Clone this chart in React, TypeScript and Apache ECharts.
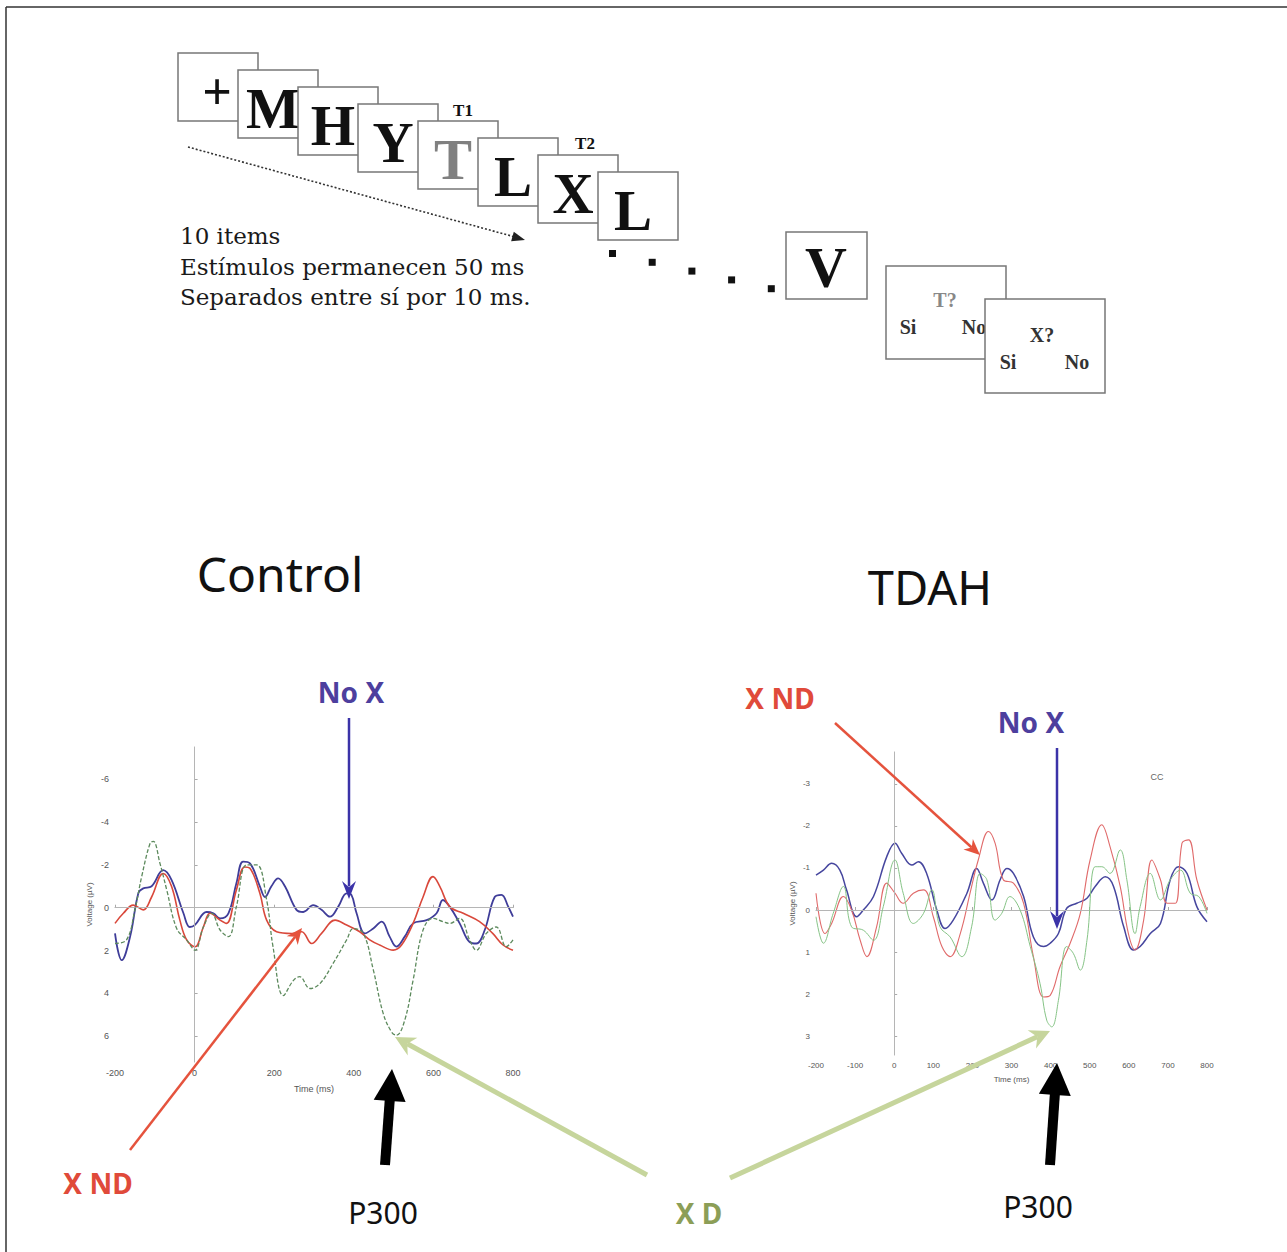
import React, { useEffect, useRef } from "react";
import * as echarts from "echarts";

// ---------- Data ----------
// Control group (left panel)
const ctrlNoXTime = [-200,-183,-162,-141,-129,-108,-79,-58,-28,-12,1,30,47,64,85,105,122,139,164,177,193,210,227,256,273,298,319,340,361,382,394,407,428,449,470,490,507,528,549,583,608,624,641,666,691,708,729,754,771,788,800];
const ctrlNoXVal = [1.2,2.45,1.35,-0.7,-0.9,-1.0,-1.75,-1.3,0.26,0.9,0.8,0.2,0.26,0.5,0.26,-1.14,-2.15,-2.07,-1.0,-0.5,-1.0,-1.37,-1.0,0.1,0.2,-0.12,0.1,0.42,-0.05,-0.67,-0.6,0.26,1.2,0.97,0.65,1.35,1.82,1.35,0.73,0.58,0.26,-0.36,-0.05,0.73,1.6,1.67,1.04,-0.5,-0.6,-0.05,0.42];

const ctrlXNDTime = [-200,-179,-154,-129,-108,-79,-58,-37,-20,1,22,39,64,80,105,126,139,164,181,206,244,269,294,319,353,382,415,440,465,499,520,549,574,599,616,641,675,716,749,775,800];
const ctrlXNDVal = [0.73,0.26,-0.12,0.1,-0.5,-1.6,-1.0,0.58,1.5,1.82,0.9,0.26,0.58,0.73,-0.83,-1.9,-1.84,-0.67,0.58,1.12,1.2,1.12,1.67,1.2,0.58,0.81,1.12,1.5,1.74,1.98,1.74,0.73,-0.5,-1.45,-1.0,-0.05,0.26,0.65,1.2,1.74,1.98];

const ctrlXDTime = [-200,-171,-150,-133,-112,-104,-87,-70,-45,-20,1,22,43,64,85,105,131,156,181,197,223,248,264,290,315,348,382,399,424,449,474,495,507,528,549,574,599,624,641,666,691,708,733,758,783,800];
const ctrlXDVal = [1.67,1.5,0.1,-1.45,-3.0,-3.1,-2.07,-0.83,0.97,1.5,1.98,0.9,0.26,1.04,1.35,-0.05,-2.0,-2.0,-0.36,1.82,4.1,3.4,3.22,3.77,3.54,2.6,1.5,0.97,1.2,2.9,4.94,5.8,5.95,5.25,3.38,1.04,0.5,0.65,0.73,0.5,1.5,1.98,1.2,0.9,1.82,1.5];

// TDAH group (right panel)
const tdahNoXTime = [-200,-181,-160,-139,-122,-96,-79,-53,-19,2,19,45,62,83,109,130,151,186,211,228,250,271,288,305,331,356,382,399,420,441,467,493,514,540,561,587,612,629,655,681,706,727,749,774,800];
const tdahNoXVal = [-0.83,-0.95,-1.11,-0.95,-0.48,0.16,0,-0.32,-1.27,-1.59,-1.35,-1.07,-1.15,-0.87,0,0.44,0.24,-0.4,-0.99,-0.64,-0.24,-0.72,-0.99,-0.87,-0.32,0.64,0.87,0.79,0.56,-0.04,-0.16,-0.28,-0.56,-0.79,-0.56,0.4,0.95,0.87,0.56,0.32,-0.72,-1.03,-0.87,-0.08,0.28];

const tdahXNDTime = [-200,-177,-160,-130,-109,-87,-70,-45,-19,2,23,49,75,100,122,143,169,194,215,241,258,279,305,331,356,382,399,424,450,476,501,531,552,578,599,616,638,659,681,698,719,736,753,774,800];
const tdahXNDVal = [-0.4,0.56,0.32,-0.32,0,0.72,1.11,0.4,-0.64,-0.4,-0.16,-0.4,-0.48,0.16,0.87,1.11,0.56,-0.4,-1.19,-1.87,-1.59,-0.72,-0.64,-0.16,1.11,2.07,2.03,1.35,0.79,0.08,-1.19,-2.03,-1.51,-0.56,0.56,0.95,0.24,-1.19,-0.72,-0.16,-0.16,-1.59,-1.67,-0.72,0];

const tdahXDTime = [-200,-181,-156,-130,-109,-79,-53,-28,2,23,49,75,96,117,143,173,198,220,237,258,275,296,322,348,373,390,403,420,441,458,476,493,514,531,552,578,595,616,629,655,681,706,732,757,779,800];
const tdahXDVal = [0.16,0.79,0.08,-0.56,0.4,0.48,0.72,-0.08,-1.19,-0.4,0.32,0.08,-0.48,0.4,0.64,1.11,0.4,-0.87,-0.72,0.24,0.08,-0.32,0,0.87,1.75,2.62,2.78,2.15,0.87,1.03,1.43,0.72,-1.03,-1.03,-0.87,-1.43,-0.72,0.56,-0.08,-0.87,-0.24,-0.72,-0.95,-0.4,-0.32,0.08];

// Axis ticks
const ctrlYTicks = [-6, -4, -2, 0, 2, 4, 6];
const tdahYTicks = [-3, -2, -1, 0, 1, 2, 3];

// Stimulus sequence
const seqLetters = ["+", "M", "H", "Y", "T", "L", "X", "L"];
const infoLines = ["10 items", "Estímulos permanecen 50 ms", "Separados entre sí por 10 ms."];

const zip = (t: number[], v: number[]) => t.map((x, i) => [x, v[i]]);

function headPts(x1: number, y1: number, x2: number, y2: number, len: number, hw: number, notch: number) {
  const dx = x2 - x1, dy = y2 - y1;
  const L = Math.hypot(dx, dy);
  const ux = dx / L, uy = dy / L;
  const px = -uy, py = ux;
  const bx = x2 - ux * len, by = y2 - uy * len;
  const nx = x2 - ux * len * (1 - notch), ny = y2 - uy * len * (1 - notch);
  return [
    [x2, y2],
    [bx + px * hw, by + py * hw],
    [nx, ny],
    [bx - px * hw, by - py * hw],
  ];
}

function arrow(x1: number, y1: number, x2: number, y2: number, color: string, width: number, len: number, hw: number, notch = 0) {
  const dx = x2 - x1, dy = y2 - y1;
  const L = Math.hypot(dx, dy);
  const ex = x2 - (dx / L) * len * 0.7, ey = y2 - (dy / L) * len * 0.7;
  return [
    { type: "line", z: 100, shape: { x1, y1, x2: ex, y2: ey }, style: { stroke: color, lineWidth: width } },
    { type: "polygon", z: 101, shape: { points: headPts(x1, y1, x2, y2, len, hw, notch) }, style: { fill: color } },
  ];
}

function txt(text: string, x: number, y: number, size: number, color: string, family: string, weight = "normal", align = "center") {
  return {
    type: "text",
    z: 102,
    x,
    y,
    style: {
      text,
      fill: color,
      fontSize: size,
      fontFamily: family,
      fontWeight: weight,
      align,
      textAlign: align,
      verticalAlign: "middle",
      textVerticalAlign: "middle",
    },
  };
}

const SERIF = "Liberation Serif";
const SANS = "Noto Sans";

function buildGraphic() {
  const g: any[] = [];
  // frame (top and left edges)
  g.push({ type: "line", shape: { x1: 6, y1: 7, x2: 1287, y2: 7 }, style: { stroke: "#333", lineWidth: 1.5 } });
  g.push({ type: "line", shape: { x1: 6, y1: 7, x2: 6, y2: 1252 }, style: { stroke: "#333", lineWidth: 1.5 } });

  // stimulus boxes
  seqLetters.forEach((ch, i) => {
    const left = 178 + 60 * i;
    const top = 53 + 17 * i;
    g.push({ type: "rect", z: 10 + i * 2, shape: { x: left, y: top, width: 80, height: 68 }, style: { fill: "#fff", stroke: "#777", lineWidth: 1.5 } });
    const t = txt(ch, left + (i === 0 ? 39 : 35), top + 38, ch === "+" ? 52 : 57, ch === "T" && i === 4 ? "#808080" : "#111", SERIF, "bold");
    (t as any).z = 11 + i * 2;
    g.push(t);
  });
  g.push(txt("T1", 463, 110, 17, "#111", SERIF, "bold"));
  g.push(txt("T2", 585, 143, 17, "#111", SERIF, "bold"));

  // dotted arrow
  g.push({ type: "line", z: 30, shape: { x1: 188, y1: 147, x2: 515, y2: 237 }, style: { stroke: "#333", lineWidth: 1.6, lineDash: [2, 2] } });
  g.push({ type: "polygon", z: 30, shape: { points: headPts(188, 147, 525, 240, 13, 5, 0) }, style: { fill: "#222" } });

  infoLines.forEach((s, i) => {
    g.push(txt(s, 180, 236 + 30.5 * i, 23, "#1a1a1a", "DejaVu Serif", "normal", "left"));
  });

  // dots
  [0, 1, 2, 3, 4].forEach((i) => {
    g.push({ type: "rect", shape: { x: 609 + 39.7 * i, y: 250 + 8.8 * i, width: 7, height: 7 }, style: { fill: "#111" } });
  });

  // V box
  g.push({ type: "rect", shape: { x: 786, y: 232, width: 81, height: 67 }, style: { fill: "#fff", stroke: "#777", lineWidth: 1.5 } });
  g.push(txt("V", 826, 267, 58, "#111", SERIF, "bold"));

  // answer boxes
  g.push({ type: "rect", z: 20, shape: { x: 886, y: 266, width: 120, height: 93 }, style: { fill: "#fff", stroke: "#777", lineWidth: 1.5 } });
  g.push({ ...txt("T?", 945, 300, 20, "#888", SERIF, "bold"), z: 21 });
  g.push({ ...txt("Si", 908, 327, 20, "#333", SERIF, "bold"), z: 21 });
  g.push({ ...txt("No", 974, 327, 20, "#333", SERIF, "bold"), z: 21 });
  g.push({ type: "rect", z: 22, shape: { x: 985, y: 299, width: 120, height: 94 }, style: { fill: "#fff", stroke: "#777", lineWidth: 1.5 } });
  g.push({ ...txt("X?", 1042, 335, 20, "#333", SERIF, "bold"), z: 23 });
  g.push({ ...txt("Si", 1008, 362, 20, "#333", SERIF, "bold"), z: 23 });
  g.push({ ...txt("No", 1077, 362, 20, "#333", SERIF, "bold"), z: 23 });

  // titles
  g.push(txt("Control", 280, 573, 48, "#111", SANS));
  g.push(txt("TDAH", 930, 587, 47, "#111", SANS));

  // annotation labels
  g.push(txt("No X", 351, 692, 28, "#4d3f9e", SANS, "bold"));
  g.push(txt("No X", 1031, 722, 28, "#4d3f9e", SANS, "bold"));
  g.push(txt("X ND", 780, 698, 28, "#e04a3a", SANS, "bold"));
  g.push(txt("X ND", 98, 1183, 28, "#e04a3a", SANS, "bold"));
  g.push(txt("X D", 699, 1213, 28, "#8c9e57", SANS, "bold"));
  g.push(txt("P300", 383, 1212, 30, "#111", SANS));
  g.push(txt("P300", 1038, 1206, 30, "#111", SANS));

  // annotation arrows
  g.push(...arrow(349, 718, 349, 899, "#3b33a8", 2.5, 18, 7, 0.35));
  g.push(...arrow(1057, 748, 1057, 929, "#3b33a8", 2.5, 18, 7, 0.35));
  g.push(...arrow(130, 1150, 302, 928, "#e5533d", 2.5, 16, 7, 0.3));
  g.push(...arrow(835, 723, 980, 855, "#e5533d", 2.5, 16, 7, 0.3));
  g.push(...arrow(647, 1175, 395, 1037, "#c6d59c", 5, 20, 10, 0.3));
  g.push(...arrow(730, 1178, 1050, 1031, "#c6d59c", 5, 20, 10, 0.3));
  g.push(...arrow(385, 1165, 392, 1069, "#000", 10, 32, 16, 0));
  g.push(...arrow(1050, 1165, 1057, 1063, "#000", 10, 32, 16, 0));

  // CC label
  g.push(txt("CC", 1157, 777, 9, "#666", "Liberation Sans"));
  return g;
}

const axisLabelStyle = { color: "#555", fontSize: 9, fontFamily: "Liberation Sans" };

function App() {
  const ref = useRef<HTMLDivElement>(null);
  useEffect(() => {
    if (!ref.current) return;
    const chart = echarts.init(ref.current, null, { renderer: "svg" });
    const zeroLines = {
      silent: true,
      symbol: ["none", "none"],
      label: { show: false },
      lineStyle: { color: "#b5b5b5", width: 1, type: "solid" },
      data: [{ yAxis: 0 }, { xAxis: 0 }],
    };
    const option: any = {
      animation: false,
      backgroundColor: "#fff",
      grid: [
        { left: 115, top: 747, width: 398, height: 315, outerBoundsMode: "none", containLabel: false },
        { left: 816, top: 752, width: 391, height: 303, outerBoundsMode: "none", containLabel: false },
      ],
      xAxis: [
        {
          gridIndex: 0, type: "value", min: -200, max: 800, interval: 200,
          name: "Time (ms)", nameLocation: "middle", nameGap: 22,
          nameTextStyle: { color: "#555", fontSize: 9, fontFamily: "Liberation Sans" },
          axisLine: { lineStyle: { color: "#aaa" } },
          axisTick: { inside: true, length: 3, lineStyle: { color: "#aaa" } },
          axisLabel: { ...axisLabelStyle, margin: 6 },
          splitLine: { show: false },
        },
        {
          gridIndex: 1, type: "value", min: -200, max: 800, interval: 100,
          name: "Time (ms)", nameLocation: "middle", nameGap: 20,
          nameTextStyle: { color: "#555", fontSize: 8, fontFamily: "Liberation Sans" },
          axisLine: { lineStyle: { color: "#aaa" } },
          axisTick: { inside: true, length: 3, lineStyle: { color: "#aaa" } },
          axisLabel: { ...axisLabelStyle, fontSize: 8, margin: 6 },
          splitLine: { show: false },
        },
      ],
      yAxis: [
        {
          gridIndex: 0, type: "value", inverse: true, min: -7.5, max: 7.2,
          name: "Voltage (µV)", nameLocation: "middle", nameGap: 22, nameRotate: 90,
          nameTextStyle: { color: "#555", fontSize: 8, fontFamily: "Liberation Sans" },
          axisLine: { show: true, lineStyle: { color: "#aaa" } },
          axisTick: { show: true, inside: true, length: 3, customValues: ctrlYTicks, lineStyle: { color: "#aaa" } },
          axisLabel: { ...axisLabelStyle, customValues: ctrlYTicks, margin: 6 },
          splitLine: { show: false },
        },
        {
          gridIndex: 1, type: "value", inverse: true, min: -3.76, max: 3.45,
          name: "Voltage (µV)", nameLocation: "middle", nameGap: 20, nameRotate: 90,
          nameTextStyle: { color: "#555", fontSize: 8, fontFamily: "Liberation Sans" },
          axisLine: { show: true, lineStyle: { color: "#aaa" } },
          axisTick: { show: true, inside: true, length: 3, customValues: tdahYTicks, lineStyle: { color: "#aaa" } },
          axisLabel: { ...axisLabelStyle, fontSize: 8, customValues: tdahYTicks, margin: 6 },
          splitLine: { show: false },
        },
      ],
      series: [
        { name: "Control No X", type: "line", xAxisIndex: 0, yAxisIndex: 0, data: zip(ctrlNoXTime, ctrlNoXVal), smooth: 0.4, showSymbol: false, lineStyle: { color: "#3f3d99", width: 1.8 }, markLine: zeroLines, z: 3 },
        { name: "Control X ND", type: "line", xAxisIndex: 0, yAxisIndex: 0, data: zip(ctrlXNDTime, ctrlXNDVal), smooth: 0.4, showSymbol: false, lineStyle: { color: "#d9483b", width: 1.6 }, z: 4 },
        { name: "Control X D", type: "line", xAxisIndex: 0, yAxisIndex: 0, data: zip(ctrlXDTime, ctrlXDVal), smooth: 0.4, showSymbol: false, lineStyle: { color: "#5d8a5d", width: 1.3, type: [4, 2] }, z: 5 },
        { name: "TDAH No X", type: "line", xAxisIndex: 1, yAxisIndex: 1, data: zip(tdahNoXTime, tdahNoXVal), smooth: 0.4, showSymbol: false, lineStyle: { color: "#46469e", width: 1.5 }, markLine: zeroLines, z: 3 },
        { name: "TDAH X ND", type: "line", xAxisIndex: 1, yAxisIndex: 1, data: zip(tdahXNDTime, tdahXNDVal), smooth: 0.4, showSymbol: false, lineStyle: { color: "#e06a6a", width: 1.1 }, z: 4 },
        { name: "TDAH X D", type: "line", xAxisIndex: 1, yAxisIndex: 1, data: zip(tdahXDTime, tdahXDVal), smooth: 0.4, showSymbol: false, lineStyle: { color: "#86c486", width: 1.0 }, z: 5 },
      ],
      graphic: { elements: buildGraphic() },
    };
    chart.setOption(option);
    return () => chart.dispose();
  }, []);
  return (
    <div
      ref={ref}
      style={{ position: "absolute", left: 0, top: 0, width: 1287, height: 1252, background: "#fff" }}
    />
  );
}

export default App;
